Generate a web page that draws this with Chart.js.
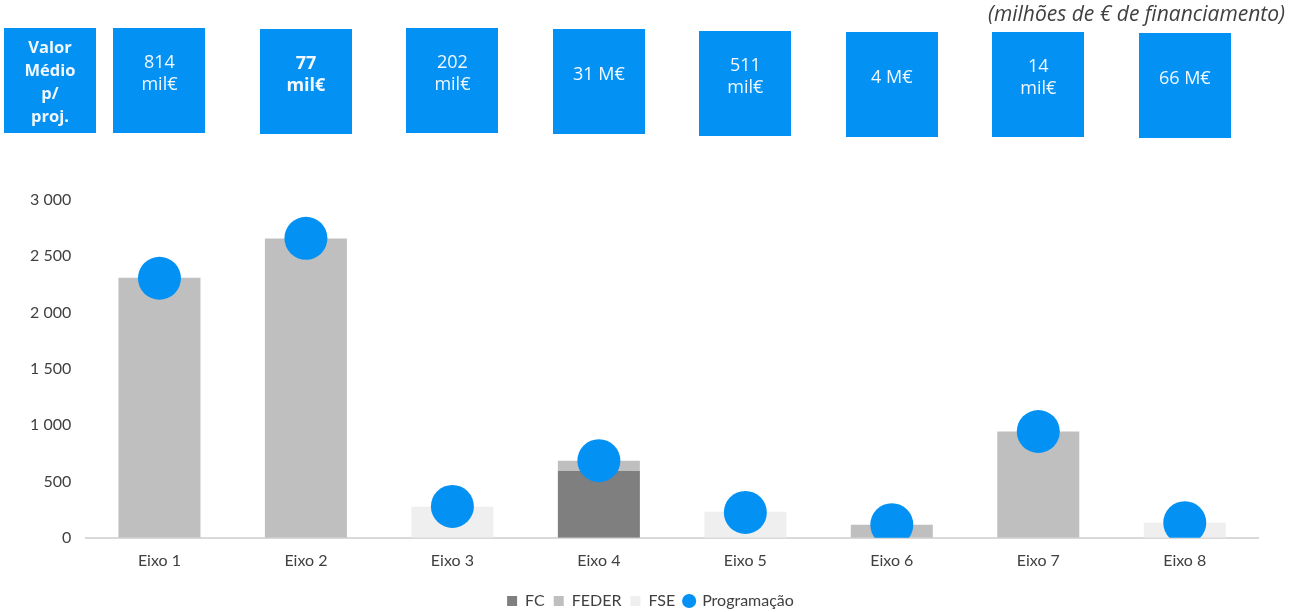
<!DOCTYPE html>
<html><head><meta charset="utf-8">
<script src="https://cdn.jsdelivr.net/npm/chart.js@4"></script>
<style>html,body{margin:0;padding:0;background:#fff;} canvas{display:block;}</style>
</head><body>
<canvas id="c" width="1299" height="612"></canvas>
<script>
const categories = ['Eixo 1','Eixo 2','Eixo 3','Eixo 4','Eixo 5','Eixo 6','Eixo 7','Eixo 8'];
const fc    = [0, 0, 0, 594, 0, 0, 0, 0];
const feder = [2310, 2659, 0, 91, 0, 116, 944, 0];
const fse   = [0, 0, 276, 0, 231, 0, 0, 134];
const programacao = [2305, 2660, 279, 685, 225, 116, 944, 134];
const avgValueLines = [['814','mil€'],['77','mil€'],['202','mil€'],['31 M€'],['511','mil€'],['4 M€'],['14','mil€'],['66 M€']];
const avgBold = [false, true, false, false, false, false, false, false];
const headerLines = ['Valor','Médio','p/','proj.'];
const yTicks = [0, 500, 1000, 1500, 2000, 2500, 3000];
const unitNote = '(milhões de € de financiamento)';

const BLUE = '#0392F4';
const boxesPlugin = {
  id: 'boxes',
  afterLayout(chart) {
    if (chart.legend) { chart.legend.left += 14; chart.legend.right += 14; }
  },
  afterDraw(chart) {
    const ctx = chart.ctx, xs = chart.scales.x;
    const W = 92, H = 105;
    const tops = [28, 28, 29, 28, 29, 31, 32, 32, 33];
    function drawBox(cx, top, lines, bold, spacing, size, centerOff) {
      ctx.fillStyle = BLUE;
      ctx.fillRect(Math.round(cx - W / 2), top, W, H);
      ctx.fillStyle = '#F2F8FF';
      ctx.textAlign = 'center';
      ctx.textBaseline = 'middle';
      ctx.font = (bold ? 'bold ' : '') + size + 'px "Open Sans"';
      const c = top + centerOff;
      const start = c - (lines.length - 1) * spacing / 2;
      lines.forEach((t, i) => ctx.fillText(t, cx, start + i * spacing));
    }
    ctx.save();
    drawBox(50, tops[0], headerLines, true, 23, 16.5, 54.5);
    avgValueLines.forEach((lines, i) => {
      drawBox(xs.getPixelForValue(i), tops[i + 1], lines, avgBold[i], 22, 18, 46);
    });
    ctx.font = 'italic 21px "Open Sans"';
    ctx.fillStyle = '#404040';
    ctx.textAlign = 'right';
    ctx.textBaseline = 'middle';
    ctx.fillText(unitNote, 1285, 15);
    ctx.restore();
  }
};

const fmt = v => String(v).replace(/\B(?=(\d{3})+(?!\d))/g, ' ');
const FONT = { family: 'Lato', size: 16 };

new Chart(document.getElementById('c'), {
  type: 'bar',
  data: {
    labels: categories,
    datasets: [
      { label: 'FC', data: fc, backgroundColor: '#7F7F7F', pointStyle: 'rect', order: 1 },
      { label: 'FEDER', data: feder, backgroundColor: '#BFBFBF', pointStyle: 'rect', order: 1 },
      { label: 'FSE', data: fse, backgroundColor: '#EFEFEF', pointStyle: 'rect', order: 1 },
      { label: 'Programação', type: 'line', data: programacao, showLine: false, stack: 'prog',
        backgroundColor: BLUE, borderColor: BLUE, pointRadius: 21.5, pointHoverRadius: 21.5,
        pointBorderWidth: 0, pointStyle: 'circle', order: 0 }
    ]
  },
  options: {
    responsive: false,
    devicePixelRatio: 1,
    animation: false,
    layout: { padding: { top: 200, left: 15, right: 41, bottom: -7 } },
    datasets: { bar: { categoryPercentage: 1, barPercentage: 0.56, borderWidth: 0 } },
    scales: {
      x: {
        stacked: true,
        grid: { display: false, drawTicks: false },
        border: { display: true, color: '#D9D9D9', width: 2 },
        ticks: { font: FONT, color: '#404040', padding: 13 },
        afterFit(scale) { scale.height += 1; }
      },
      y: {
        stacked: true,
        min: 0, max: 3000,
        grid: { display: false, drawTicks: false },
        border: { display: false },
        afterBuildTicks(scale) { scale.ticks = yTicks.map(v => ({ value: v })); },
        ticks: { font: FONT, color: '#404040', padding: 15, callback: v => fmt(v) }
      }
    },
    plugins: {
      tooltip: { enabled: false },
      legend: {
        position: 'bottom',
        labels: {
          usePointStyle: true, boxWidth: 10, boxHeight: 10, padding: 9,
          font: FONT, color: '#404040',
          sort: (a, b) => a.datasetIndex - b.datasetIndex
        }
      }
    }
  },
  plugins: [boxesPlugin]
});
</script>
</body></html>
